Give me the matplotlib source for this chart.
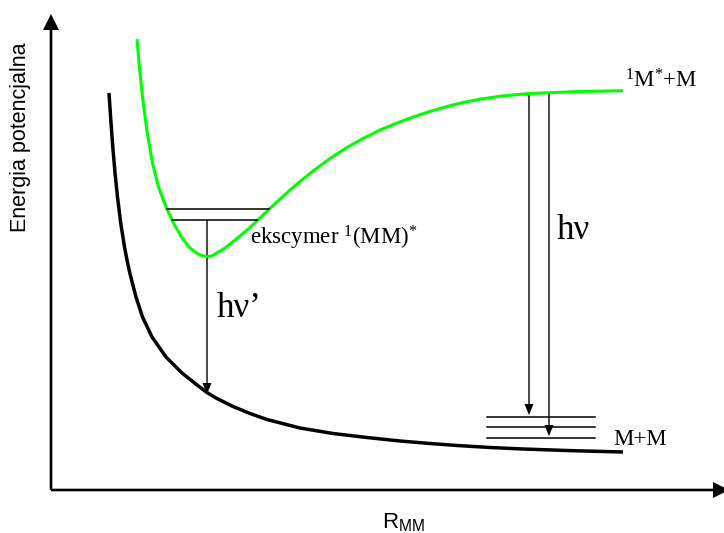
import matplotlib
matplotlib.use("Agg")
import matplotlib.pyplot as plt

plt.rcParams["mathtext.fontset"] = "custom"
plt.rcParams["mathtext.rm"] = "Liberation Serif"
plt.rcParams["mathtext.sf"] = "Liberation Sans"
plt.rcParams["mathtext.default"] = "rm"

SERIF = "Liberation Serif"
SANS = "Liberation Sans"

# diagram units: R along the x axis, E along the y axis, origin at the axes corner
ground_r = [58, 59.8, 61.8, 64, 66.5, 69.7, 73.5, 76.6, 78.8, 85, 91.5, 101, 115, 131,
            148, 156, 165, 182, 199, 216, 249, 282, 316, 349, 379, 406, 439, 472, 522, 572]
ground_e = [397, 370, 343, 317, 293, 267, 243, 227, 217, 193, 173, 153, 133, 117,
            103.5, 97.5, 92, 83.5, 76.5, 70.5, 62, 56.5, 52.5, 49, 46.5, 44.5, 42.5, 41,
            39.3, 38]

excited_r = [86, 88, 91.5, 95.8, 101.5, 107.5, 115, 122.5, 130.5, 138, 146, 151, 156,
             161, 164, 174, 186, 199, 212, 229, 246, 262, 279, 296, 312, 329, 346, 362,
             379, 396, 412, 429, 449, 479, 529, 572]
excited_e = [451, 427, 393, 360, 327, 303, 283, 267, 253, 243, 236.5, 234.3, 233.5,
             234, 236, 242, 251.5, 262.5, 275, 291, 306, 319, 331.5, 342.5, 351.5, 360,
             367, 373, 378.5, 383.5, 387.5, 390.8, 393.8, 396.5, 398.5, 399.3]

# vibrational levels: (energy, r_start, r_end)
excimer_levels = [(281, 116, 218), (270, 121, 206)]
ground_levels = [(73, 436, 544), (63, 436, 544), (52, 436, 544)]

# transitions: (r, e_from, e_to)
transitions = [(156, 270, 96), (478, 396, 75), (498, 397, 54)]

fig = plt.figure(figsize=(7.24, 5.33), dpi=100)
ax = fig.add_axes([0, 0, 1, 1])
ax.set_xlim(-51, 673)
ax.set_ylim(-43, 490)
ax.axis("off")

# coordinate axes
ax.arrow(0, 0, 0, 476, width=2.6, head_width=16, head_length=16,
         length_includes_head=True, fc="black", ec="black", lw=0)
ax.arrow(0, 0, 678, 0, width=2.6, head_width=16, head_length=16,
         length_includes_head=True, fc="black", ec="black", lw=0, clip_on=False)

ax.plot(ground_r, ground_e, color="black", lw=2.5, solid_capstyle="butt",
        solid_joinstyle="round")
ax.plot(excited_r, excited_e, color="#00ff00", lw=2.2, solid_capstyle="butt",
        solid_joinstyle="round")

for e, r0, r1 in excimer_levels + ground_levels:
    ax.plot([r0, r1], [e, e], color="black", lw=1.1)

for r, e0, e1 in transitions:
    ax.arrow(r, e0, 0, e1 - e0, width=1.4, head_width=9, head_length=11,
             length_includes_head=True, fc="black", ec="black", lw=0)

ax.text(199, 245, r"ekscymer ${}^{1}$(MM)${}^{*}$", family=SERIF, fontsize=16.5,
        va="baseline", ha="left")
ax.text(166, 173, "hν’", family=SERIF, fontsize=25, va="baseline", ha="left")
ax.text(506, 251, "hν", family=SERIF, fontsize=25, va="baseline", ha="left")
ax.text(574, 403, r"${}^{1}$M${}^{*}$+M", family=SERIF, fontsize=16.5,
        va="baseline", ha="left")
ax.text(562, 45, "M+M", family=SERIF, fontsize=16.5, va="baseline", ha="left")

ax.text(-30, 353, "Energia potencjalna", family=SANS, fontsize=15.5,
        rotation=90, va="center", ha="center")
ax.text(331, -38, r"$\mathsf{R_{MM}}$", family=SANS, fontsize=16,
        va="baseline", ha="left")

fig.savefig("out.png", dpi=100)
